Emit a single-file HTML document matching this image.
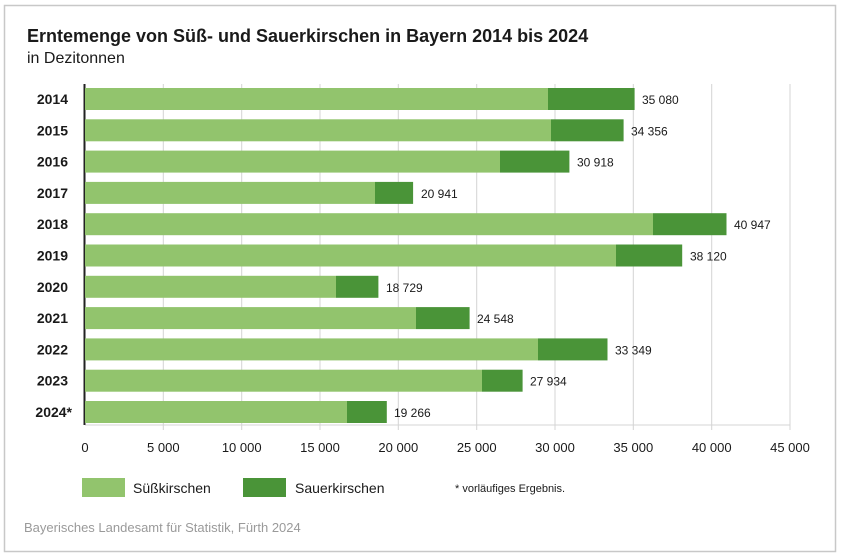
<!DOCTYPE html>
<html><head><meta charset="utf-8"><style>
body{margin:0;background:#fff;}
svg{display:block;font-family:"Liberation Sans",Arial,sans-serif;}
</style></head><body>
<svg width="841" height="557" viewBox="0 0 841 557">
<rect x="4.5" y="5.5" width="831" height="546" fill="#fff" stroke="#c8c8c8" stroke-width="1.5"/>
<text x="27" y="42" font-size="18" font-weight="bold" fill="#1a1a1a">Erntemenge von Süß- und Sauerkirschen in Bayern 2014 bis 2024</text>
<text x="27" y="63" font-size="16" fill="#1a1a1a">in Dezitonnen</text>
<g stroke="#d4d4d4" stroke-width="1">
<line x1="163.3" y1="84" x2="163.3" y2="430"/>
<line x1="241.7" y1="84" x2="241.7" y2="430"/>
<line x1="320" y1="84" x2="320" y2="430"/>
<line x1="398.3" y1="84" x2="398.3" y2="430"/>
<line x1="476.7" y1="84" x2="476.7" y2="430"/>
<line x1="555" y1="84" x2="555" y2="430"/>
<line x1="633.3" y1="84" x2="633.3" y2="430"/>
<line x1="711.7" y1="84" x2="711.7" y2="430"/>
<line x1="790" y1="84" x2="790" y2="430"/>
<line x1="85" y1="425" x2="790" y2="425"/>
</g>
<g id="bars"></g>
<line x1="84.5" y1="84" x2="84.5" y2="425" stroke="#222" stroke-width="2"/>
<g font-size="13" fill="#1a1a1a" text-anchor="middle">
<text x="85" y="452">0</text><text x="163.3" y="452">5 000</text><text x="241.7" y="452">10 000</text>
<text x="320" y="452">15 000</text><text x="398.3" y="452">20 000</text><text x="476.7" y="452">25 000</text>
<text x="555" y="452">30 000</text><text x="633.3" y="452">35 000</text><text x="711.7" y="452">40 000</text>
<text x="790" y="452">45 000</text>
</g>
<rect x="82" y="478" width="43" height="19" fill="#92c46d"/>
<text x="133" y="493" font-size="14" fill="#1a1a1a">Süßkirschen</text>
<rect x="243" y="478" width="43" height="19" fill="#4a9438"/>
<text x="295" y="493" font-size="14" fill="#1a1a1a">Sauerkirschen</text>
<text x="455" y="492" font-size="11" fill="#1a1a1a">* vorläufiges Ergebnis.</text>
<text x="24" y="532" font-size="13" fill="#9a9a9a">Bayerisches Landesamt für Statistik, Fürth 2024</text>
<g font-size="12" fill="#1a1a1a">
<!-- rows -->
<g>
<rect x="85" y="88" width="463" height="22" fill="#92c46d"/><rect x="548" y="88" width="86.6" height="22" fill="#4a9438"/>
<text x="642" y="104">35 080</text>
<rect x="85" y="119.3" width="466" height="22" fill="#92c46d"/><rect x="551" y="119.3" width="72.6" height="22" fill="#4a9438"/>
<text x="631" y="135.3">34 356</text>
<rect x="85" y="150.6" width="415" height="22" fill="#92c46d"/><rect x="500" y="150.6" width="69.4" height="22" fill="#4a9438"/>
<text x="577" y="166.6">30 918</text>
<rect x="85" y="181.9" width="290" height="22" fill="#92c46d"/><rect x="375" y="181.9" width="38.1" height="22" fill="#4a9438"/>
<text x="421" y="197.9">20 941</text>
<rect x="85" y="213.2" width="568" height="22" fill="#92c46d"/><rect x="653" y="213.2" width="73.5" height="22" fill="#4a9438"/>
<text x="734" y="229.2">40 947</text>
<rect x="85" y="244.5" width="531" height="22" fill="#92c46d"/><rect x="616" y="244.5" width="66.2" height="22" fill="#4a9438"/>
<text x="690" y="260.5">38 120</text>
<rect x="85" y="275.8" width="251" height="22" fill="#92c46d"/><rect x="336" y="275.8" width="42.4" height="22" fill="#4a9438"/>
<text x="386" y="291.8">18 729</text>
<rect x="85" y="307.1" width="331" height="22" fill="#92c46d"/><rect x="416" y="307.1" width="53.6" height="22" fill="#4a9438"/>
<text x="477" y="323.1">24 548</text>
<rect x="85" y="338.4" width="453" height="22" fill="#92c46d"/><rect x="538" y="338.4" width="69.5" height="22" fill="#4a9438"/>
<text x="615" y="354.4">33 349</text>
<rect x="85" y="369.7" width="397" height="22" fill="#92c46d"/><rect x="482" y="369.7" width="40.6" height="22" fill="#4a9438"/>
<text x="530" y="385.7">27 934</text>
<rect x="85" y="401" width="262" height="22" fill="#92c46d"/><rect x="347" y="401" width="39.8" height="22" fill="#4a9438"/>
<text x="394" y="417">19 266</text>
</g>
</g>
<g font-size="14" font-weight="bold" fill="#1a1a1a" text-anchor="end">
<text x="68" y="104">2014</text><text x="68" y="135.3">2015</text><text x="68" y="166.6">2016</text>
<text x="68" y="197.9">2017</text><text x="68" y="229.2">2018</text><text x="68" y="260.5">2019</text>
<text x="68" y="291.8">2020</text><text x="68" y="323.1">2021</text><text x="68" y="354.4">2022</text>
<text x="68" y="385.7">2023</text><text x="72" y="417">2024*</text>
</g>
</svg>
</body></html>
